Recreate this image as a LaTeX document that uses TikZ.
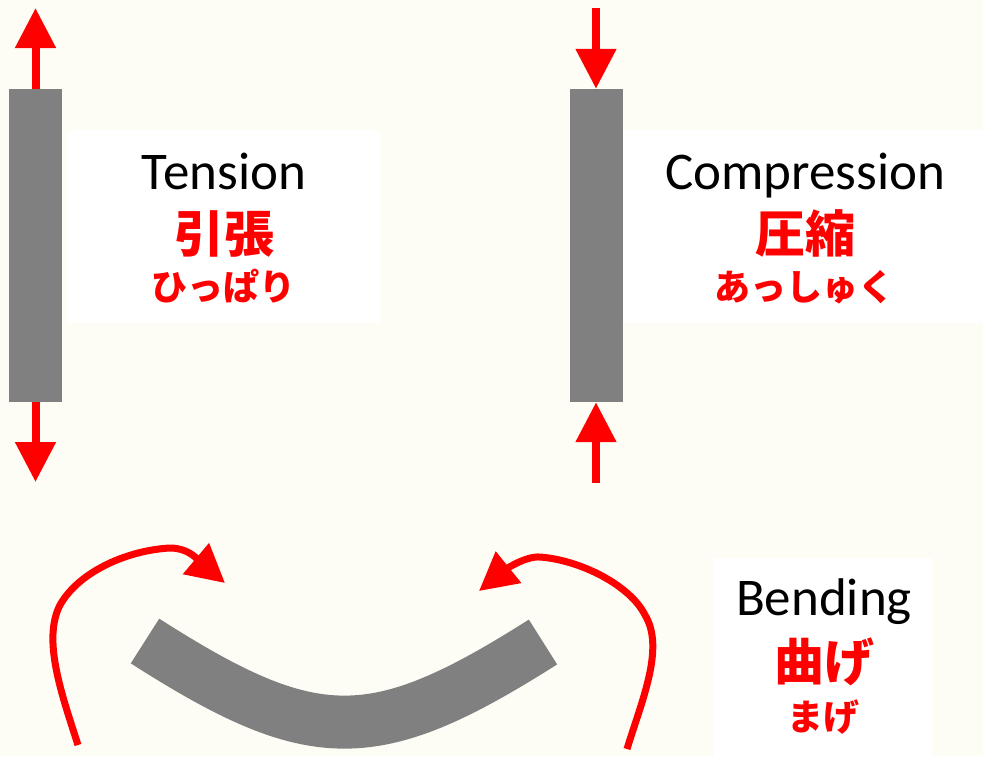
\documentclass[tikz,border=0pt]{standalone}
\usepackage{fontspec}
\setmainfont{Carlito}
\newfontfamily\jp{Noto Sans CJK JP}
\usetikzlibrary{arrows.meta}
\definecolor{bgcream}{RGB}{253,253,246}
\definecolor{bargray}{RGB}{128,128,128}
\definecolor{fred}{RGB}{255,0,0}
\tikzset{
  bar/.style={fill=bargray, draw=none, inner sep=0pt, minimum width=53pt, minimum height=313pt},
  whitebox/.style={fill=white, draw=none},
  force/.style={draw=fred, line width=8pt, -{Triangle[length=40pt,width=39pt]}},
  bendarrow/.style={draw=fred, line width=7pt, -{Triangle[length=38pt,width=39pt]}},
  entext/.style={anchor=base, inner sep=0pt, font=\fontsize{53}{53}\selectfont},
  kanji/.style={anchor=base, inner sep=0pt, text=fred, font=\jp\bfseries\fontsize{50}{50}\selectfont},
  kana/.style={anchor=base, inner sep=0pt, text=fred, font=\jp\bfseries\fontsize{36}{36}\selectfont},
}
\begin{document}
\begin{tikzpicture}[x=1pt, y=-1pt]
\fill[bgcream] (0,0) rectangle (983,756);
\useasboundingbox (0,0) rectangle (983,756);

% white label boxes
\fill[whitebox] (68,130) rectangle (380,323);
\fill[whitebox] (623,130) rectangle (983,323);
\fill[whitebox] (714,558) rectangle (932,756);

% bars
\node[bar] (tbar) at (35.5,245.5) {};
\node[bar] (cbar) at (596,245.5) {};

% tension arrows
\coordinate (tup) at (35.5,8);
\coordinate (tdown) at (35.5,482);
\draw[force] (tbar.north) -- (tup);
\draw[force] (tbar.south) -- (tdown);

% compression arrows
\coordinate (ctop) at (596,8);
\coordinate (cbot) at (596,483);
\draw[force] (ctop) -- (cbar.north);
\draw[force] (cbot) -- (cbar.south);

% bent beam
\coordinate (bl) at (145,641);
\coordinate (br) at (543,642);
\draw[bargray, line width=53pt] (bl) .. controls (314,749) and (374,749) .. (br);

% bending arrows
\coordinate (la0) at (78,745);
\coordinate (la1) at (60,605);
\coordinate (la2) at (170,548);
\coordinate (la3) at (225,583);
\draw[bendarrow] (la0) .. controls (62,695) and (42,640) .. (la1)
  .. controls (80,570) and (130,550) .. (la2)
  .. controls (190,548) and (200,562) .. (la3);
\coordinate (ra0) at (627,749);
\coordinate (ra1) at (645,615);
\coordinate (ra2) at (540,557);
\coordinate (ra3) at (479,591);
\draw[bendarrow] (ra0) .. controls (642,700) and (665,648) .. (ra1)
  .. controls (630,585) and (580,560) .. (ra2)
  .. controls (525,556) and (505,570) .. (ra3);

% texts
\node[entext] (ten) at (224,189) {Tension};
\node[kanji] (tenj) at (224,252) {引張};
\node[kana] (tenk) at (223,300) {ひっぱり};

\node[entext] (com) at (805,189) {Compression};
\node[kanji] (comj) at (805,252) {圧縮};
\node[kana] (comk) at (804,300) {あっしゅく};

\node[entext] (ben) at (824,615) {Bending};
\node[kanji] (benj) at (824,680) {曲げ};
\node[kana] (benk) at (823,730) {まげ};
\end{tikzpicture}
\end{document}
